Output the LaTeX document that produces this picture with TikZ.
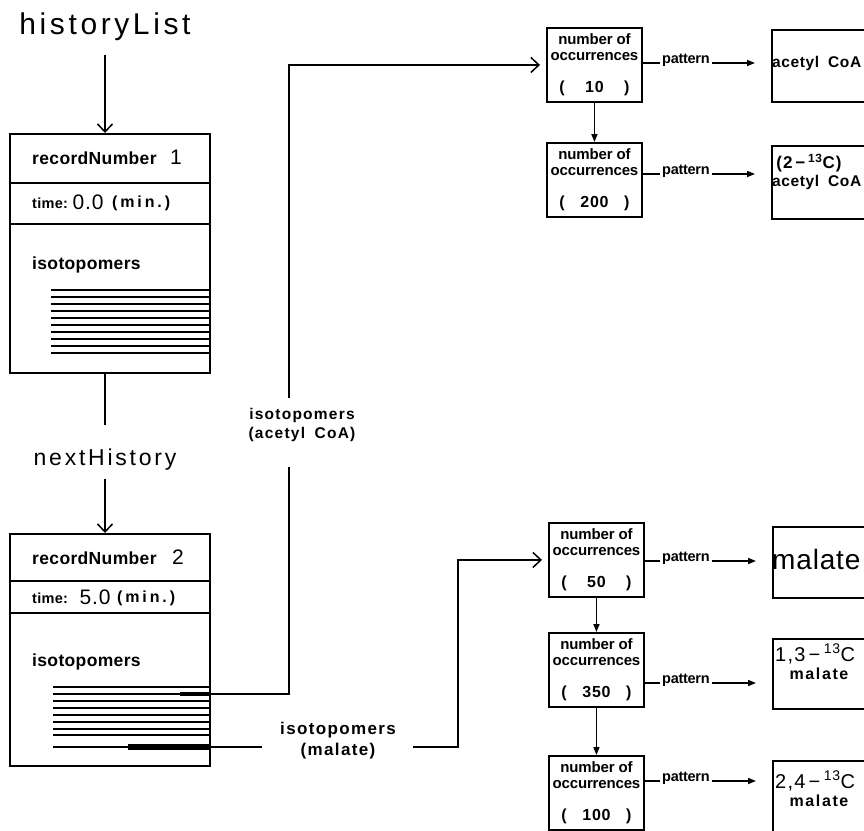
\documentclass[tikz,border=0pt]{standalone}
\usepackage{fontspec}
\setmainfont{Liberation Sans}
\usetikzlibrary{arrows.meta}

% font size helper (size in pt, no extra leading)
\newcommand\szf[1]{\fontsize{#1}{#1}\selectfont}
% wide plotter-like spacing
\newcommand\wide[1]{\addfontfeatures{LetterSpace=#1}}

\tikzset{
  every node/.style={inner sep=0pt},
  frame/.style={draw, line width=1.9pt, anchor=north west},
  conn/.style={line width=1.6pt},
  isoline/.style={line width=1.9pt},
  open tip/.style={-{Straight Barb[length=8pt,width=15pt,line width=1.5pt]}},
  solid tip/.style={-{Triangle[length=8pt,width=6pt]}},
  bigtitle/.style={font=\szf{30}\wide{12}},
  rectxt/.style={font=\bfseries\szf{17.5}\wide{2}},
  timetxt/.style={font=\bfseries\szf{14.5}\wide{2}, anchor=west},
  numtxt/.style={font=\szf{21}\wide{4}},
  mintxt/.style={font=\bfseries\szf{16}\wide{18}, anchor=west},
  lbl/.style={font=\bfseries\szf{15.5}\wide{8}, align=center},
  occtxt/.style={font=\bfseries\szf{15}\wide{-1}},
  valtxt/.style={font=\bfseries\szf{16}\wide{4}},
  pattxt/.style={font=\bfseries\szf{14.5}\wide{-2}, inner xsep=2pt},
  chemtxt/.style={font=\bfseries\szf{15.5}\wide{4}},
  chemsmall/.style={font=\bfseries\szf{16}\wide{10}},
  chembig/.style={font=\szf{20}\wide{6}},
}

% a "number of occurrences" box: name, x, y (top left), count
\newcommand\occbox[4]{%
  \node[frame, minimum width=95pt, minimum height=74pt] (#1) at (#2,#3) {};
  \node[occtxt] at ([yshift=-12pt]#1.north) {number of};
  \node[occtxt] at ([yshift=-30pt]#1.north) {occurrences};
  \node[valtxt] at ([yshift=-61pt]#1.north) {\makebox[70pt]{(\hfill #4\hfill)}};
}
% "pattern" link: from box, to box, baseline y
\newcommand\patrow[3]{%
  \node[pattxt, anchor=base west] (#1p) at (660,#3) {pattern};
  \draw[conn] (#1.east |- #1p.base west) -- (#1p.base west);
  \draw[conn, solid tip, shorten >=16pt] (#1p.base east) -- (#2.west |- #1p.base east);
}

\begin{document}
\begin{tikzpicture}[x=1pt, y=-1pt]
\useasboundingbox (0,0) rectangle (864,830);
\clip (0,0) rectangle (864,830);

% ---------------- history list ----------------
\node[bigtitle] (hl) at (105,27) {historyList};

% record 1
\node[frame, minimum width=200pt, minimum height=49pt] (r1a) at (9,133) {};
\node[frame, minimum width=200pt, minimum height=41pt] (r1b) at (9,182) {};
\node[frame, minimum width=200pt, minimum height=149pt] (r1c) at (9,223) {};
\node[rectxt, anchor=west] at (32,158) {recordNumber};
\node[numtxt] at (176,157) {1};
\node[timetxt] at (32,203) {time:};
\node[numtxt] at (88,202) {0.0};
\node[mintxt] at (112,203) {(min.)};
\node[rectxt, anchor=west] at (32,265) {isotopomers};
\foreach \k in {0,...,9}
  \draw[isoline] (51,{290+7*\k}) -- (209,{290+7*\k});

\draw[conn, open tip, shorten <=14pt] (hl.south) -- (hl.south |- r1a.north);

% record 2
\node[frame, minimum width=200pt, minimum height=47pt] (r2a) at (9,533) {};
\node[frame, minimum width=200pt, minimum height=32pt] (r2b) at (9,580) {};
\node[frame, minimum width=200pt, minimum height=153pt] (r2c) at (9,612) {};
\node[rectxt, anchor=west] at (32,558) {recordNumber};
\node[numtxt] at (178,557) {2};
\node[timetxt] at (32,598) {time:};
\node[numtxt] at (95,597) {5.0};
\node[mintxt] at (117,598) {(min.)};
\node[rectxt, anchor=west] at (32,662) {isotopomers};
\foreach \yy in {687,694,701,708,715,722,729,735,747}
  \draw[isoline] (53,\yy) -- (209,\yy);
\draw[line width=4pt] (180,694) -- (209,694);
\draw[line width=6pt] (128,747) -- (209,747);

% link from record 1 to record 2
\node[font=\szf{23}\wide{12}] (nh) at (105,460) {nextHistory};
\draw[conn, shorten >=24pt] (nh.north |- r1c.south) -- (nh.north);
\draw[conn, open tip, shorten <=8pt] (nh.south) -- (nh.south |- r2a.north);

% ---------------- acetyl CoA isotopomers ----------------
\occbox{nA}{546}{27}{10}
\occbox{nB}{546}{142}{200}
\draw[conn, solid tip] (nA) -- (nB);

\node[frame, minimum width=130pt, minimum height=72pt] (nC) at (771,29) {};
\node[frame, minimum width=130pt, minimum height=73pt] (nD) at (771,145) {};
\node[chemtxt, anchor=west] at (772,63) {acetyl\hspace{4pt} CoA};
\node[chemtxt, font=\bfseries\szf{17}\wide{6}] at (809,163) {(2\,−\,\textsuperscript{13}C)};
\node[chemtxt, anchor=west] at (772,182) {acetyl\hspace{4pt} CoA};

\patrow{nA}{nC}{63}
\patrow{nB}{nD}{174}

% ---------------- malate isotopomers ----------------
\occbox{nE}{548}{522}{50}
\occbox{nG}{548}{632}{350}
\occbox{nI}{548}{755}{100}
\draw[conn, solid tip] (nE) -- (nG);
\draw[conn, solid tip] (nG) -- (nI);

\node[frame, minimum width=130pt, minimum height=71pt] (nF) at (772,526) {};
\node[frame, minimum width=130pt, minimum height=70pt] (nH) at (772,638) {};
\node[frame, minimum width=130pt, minimum height=90pt] (nJ) at (772,760) {};
\node[font=\szf{28}\wide{3}, anchor=west] at (772,559) {malate};
\node[chembig, anchor=west] at (775,654) {1,3\,−\,\textsuperscript{13}C};
\node[chemsmall] at (819,674) {malate};
\node[chembig, anchor=west] at (775,781) {2,4\,−\,\textsuperscript{13}C};
\node[chemsmall] at (819,801) {malate};

\patrow{nE}{nF}{561}
\patrow{nG}{nH}{683}
\patrow{nI}{nJ}{781}

% ---------------- connectors from record 2 ----------------
\node[lbl] (la) at (302,425) {isotopomers\\[3pt](acetyl\hspace{4pt} CoA)};
\coordinate (s1) at (209,694);
\coordinate (k1a) at (289,398);
\coordinate (k1b) at (289,467);
\draw[conn] (s1) -| (k1b);
\draw[conn, open tip, shorten >=6pt] (k1a) |- (nA.west);

\node[lbl, font=\bfseries\szf{17}\wide{8}] (lm) at (338,741) {isotopomers\\[4pt](malate)};
\coordinate (s2) at (209,747);
\coordinate (k2a) at (262,747);
\coordinate (k2b) at (413,747);
\coordinate (k2c) at (458,747);
\draw[conn] (s2) -- (k2a);
\draw[conn, open tip, shorten >=6pt] (k2b) -- (k2c) |- (nE.west);
\end{tikzpicture}
\end{document}
